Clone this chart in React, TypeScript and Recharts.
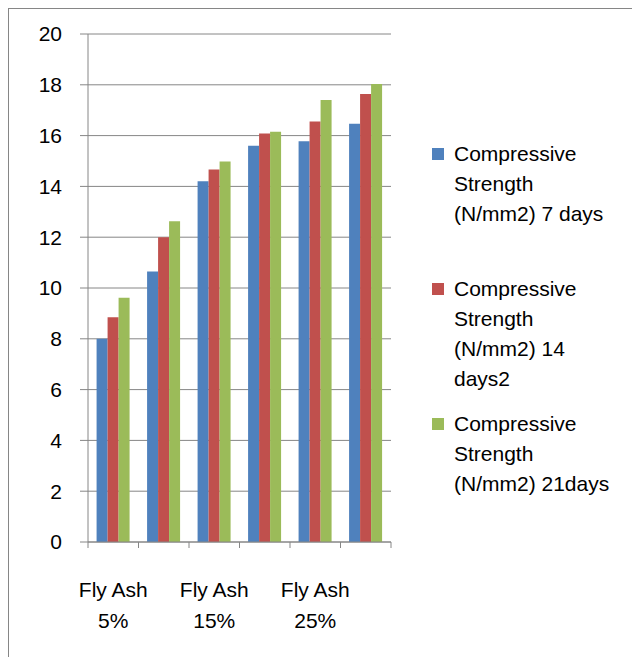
import { BarChart, Bar, XAxis, YAxis, CartesianGrid, Legend } from 'recharts';

const categories = ['Fly Ash 5%', 'Fly Ash 10%', 'Fly Ash 15%', 'Fly Ash 20%', 'Fly Ash 25%', 'Fly Ash 30%'];
const days7 = [8.0, 10.65, 14.2, 15.6, 15.78, 16.47];
const days14 = [8.85, 12.0, 14.67, 16.08, 16.56, 17.64];
const days21 = [9.62, 12.63, 14.98, 16.15, 17.4, 18.03];
const yTicks = [0, 2, 4, 6, 8, 10, 12, 14, 16, 18, 20];

const seriesNames = [
  'Compressive Strength (N/mm2) 7 days',
  'Compressive Strength (N/mm2) 14 days2',
  'Compressive Strength (N/mm2) 21days',
];
const legendLines = [
  ['Compressive', 'Strength', '(N/mm2) 7 days'],
  ['Compressive', 'Strength', '(N/mm2) 14', 'days2'],
  ['Compressive', 'Strength', '(N/mm2) 21days'],
];
const colors = ['#4F81BD', '#C0504D', '#9BBB59'];

const data = categories.map((name, i) => ({
  name,
  d7: days7[i],
  d14: days14[i],
  d21: days21[i],
}));

const FONT = '"Liberation Sans", Arial, sans-serif';
const W = 631;
const H = 648;
const PLOT_W = 303;
const BAND = PLOT_W / categories.length;
const GRID = '#868686';

const XTick = (props: any) => {
  const { x, y, index, payload } = props;
  const parts = String(payload.value).split(' ');
  const first = parts.slice(0, 2).join(' ');
  const second = parts.slice(2).join(' ');
  const left = x - BAND / 2;
  return (
    <g>
      <line x1={left} y1={y} x2={left} y2={y + 6} stroke={GRID} />
      {index === categories.length - 1 && (
        <line x1={x + BAND / 2} y1={y} x2={x + BAND / 2} y2={y + 6} stroke={GRID} />
      )}
      {index % 2 === 0 && (
        <text x={x} y={y} textAnchor="middle" fontFamily={FONT} fontSize={21} fill="#000">
          <tspan x={x} dy={55}>{first}</tspan>
          <tspan x={x} dy={31}>{second}</tspan>
        </text>
      )}
    </g>
  );
};

const LegendBox = () => (
  <div style={{ fontFamily: FONT, fontSize: 21, color: '#000' }}>
    {legendLines.map((lines, i) => (
      <div key={seriesNames[i]} style={{ position: 'relative', height: 135 }}>
        <div
          style={{
            position: 'absolute',
            left: 0,
            top: 0,
            width: 12,
            height: 12,
            background: colors[i],
          }}
        />
        <div style={{ position: 'absolute', left: 22, top: -9, lineHeight: '30px', whiteSpace: 'nowrap' }}>
          {lines.map((l) => (
            <div key={l}>{l}</div>
          ))}
        </div>
      </div>
    ))}
  </div>
);

export default function App() {
  return (
    <div
      style={{
        width: W,
        height: H,
        borderLeft: `1px solid ${GRID}`,
        borderTop: `1px solid ${GRID}`,
        background: '#fff',
      }}
    >
      <BarChart
        width={W}
        height={H}
        data={data}
        margin={{ top: 25, right: W - 79 - PLOT_W, left: 0, bottom: 55 }}
        barCategoryGap="17%"
        barGap={0}
      >
        <CartesianGrid vertical={false} stroke={GRID} strokeDasharray="" />
        <XAxis
          dataKey="name"
          interval={0}
          height={60}
          axisLine={{ stroke: GRID }}
          tickLine={false}
          tickSize={0}
          tickMargin={0}
          tick={<XTick />}
        />
        <YAxis
          width={79}
          domain={[0, 20]}
          ticks={yTicks}
          interval={0}
          axisLine={{ stroke: GRID }}
          tickLine={{ stroke: GRID }}
          tickSize={8}
          tickMargin={18}
          tick={{ fontFamily: FONT, fontSize: 21, fill: '#000' }}
        />
        <Legend
          layout="vertical"
          align="center"
          verticalAlign="middle"
          wrapperStyle={{ left: 423, top: 139, width: 200 }}
          content={<LegendBox />}
        />
        <Bar dataKey="d7" name={seriesNames[0]} fill={colors[0]} isAnimationActive={false} />
        <Bar dataKey="d14" name={seriesNames[1]} fill={colors[1]} isAnimationActive={false} />
        <Bar dataKey="d21" name={seriesNames[2]} fill={colors[2]} isAnimationActive={false} />
      </BarChart>
    </div>
  );
}
